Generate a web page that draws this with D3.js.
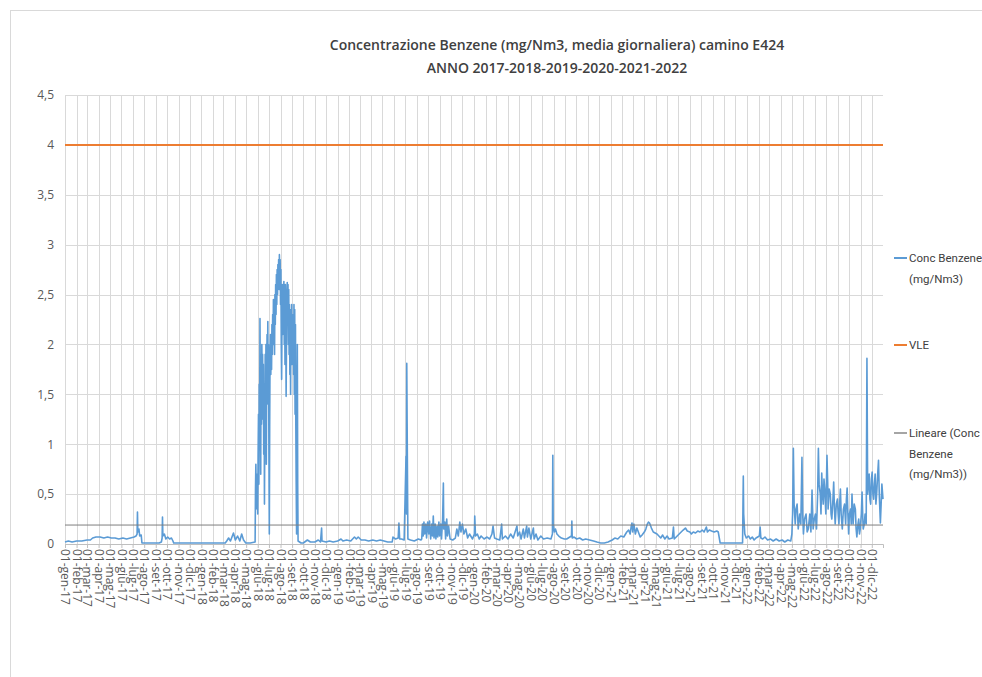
<!DOCTYPE html>
<html><head><meta charset="utf-8">
<script src="https://cdn.jsdelivr.net/npm/d3@7"></script>
<style>
html,body{margin:0;padding:0;background:#fff;}
svg{display:block;}
</style></head>
<body>
<svg id="chart" width="982" height="677"></svg>
<script>
// ---------- DATA ----------
const titleLines = ["Concentrazione Benzene (mg/Nm3, media giornaliera) camino E424", "ANNO 2017-2018-2019-2020-2021-2022"];
const monthAbbr = ["gen","feb","mar","apr","mag","giu","lug","ago","set","ott","nov","dic"];
const yTicks = [0,0.5,1,1.5,2,2.5,3,3.5,4,4.5];
const xStart = "2017-01-01", xEnd = "2022-12-31";
const vleValue = 4;
const trendValues = [0.19, 0.19]; // Lineare trend at start and end
const legendLabels = [["Conc Benzene","(mg/Nm3)"],["VLE"],["Lineare (Conc","Benzene","(mg/Nm3))"]];

const benzene2017 = [
["2017-01-01",0.02],["2017-01-10",0.03],["2017-01-20",0.02],["2017-02-01",0.03],["2017-02-15",0.03],["2017-03-01",0.04],["2017-03-10",0.04],["2017-03-16",0.06],["2017-03-25",0.07],["2017-04-05",0.07],["2017-04-15",0.06],["2017-04-25",0.07],["2017-05-05",0.06],["2017-05-15",0.06],["2017-05-25",0.05],["2017-06-05",0.06],["2017-06-15",0.05],["2017-06-25",0.06],["2017-07-05",0.07],["2017-07-10",0.08],["2017-07-13",0.1],["2017-07-14",0.32],["2017-07-15",0.12],["2017-07-18",0.15],["2017-07-20",0.08],["2017-07-24",0.09],["2017-07-26",0.01],["2017-08-10",0.01],["2017-08-25",0.01],["2017-09-10",0.01],["2017-09-16",0.02],["2017-09-18",0.06],["2017-09-19",0.27],["2017-09-20",0.08],["2017-09-24",0.1],["2017-09-28",0.05],["2017-10-03",0.07],["2017-10-08",0.05],["2017-10-13",0.06],["2017-10-17",0.03],["2017-10-19",0.01],["2017-11-15",0.01],["2017-12-15",0.01]
];
const benzene2018 = [
["2018-01-15",0.01],["2018-02-15",0.01],["2018-03-06",0.01],["2018-03-10",0.03],["2018-03-15",0.06],["2018-03-20",0.03],["2018-03-28",0.11],["2018-04-02",0.04],["2018-04-08",0.08],["2018-04-14",0.03],["2018-04-19",0.1],["2018-04-24",0.04],["2018-04-30",0.01],["2018-05-12",0.01],["2018-05-25",0.02],
["2018-05-26",0.55],["2018-05-27",0.8],["2018-05-28",0.45],["2018-05-29",0.7],["2018-05-30",0.35],["2018-05-31",0.6],["2018-06-01",0.3],["2018-06-02",0.9],["2018-06-03",1.3],["2018-06-04",0.6],["2018-06-05",1.6],["2018-06-06",1.0],["2018-06-07",2.26],["2018-06-08",1.4],["2018-06-09",0.7],["2018-06-10",1.9],["2018-06-11",1.2],["2018-06-12",2.0],["2018-06-13",1.5],["2018-06-14",1.9],["2018-06-15",1.25],["2018-06-16",1.8],["2018-06-17",0.9],["2018-06-18",1.6],["2018-06-19",0.4],["2018-06-20",1.2],["2018-06-21",1.9],["2018-06-22",1.5],["2018-06-23",2.0],["2018-06-24",0.8],["2018-06-25",1.7],["2018-06-26",2.1],["2018-06-27",1.6],["2018-06-28",2.23],["2018-06-29",1.4],["2018-06-30",2.0],["2018-07-01",0.9],["2018-07-02",0.1],["2018-07-03",1.2],["2018-07-04",1.9],["2018-07-05",2.1],["2018-07-06",1.7],["2018-07-07",2.05],["2018-07-08",1.75],["2018-07-09",2.2],["2018-07-10",1.9],["2018-07-11",2.3],["2018-07-12",2.0],["2018-07-13",2.45],["2018-07-14",2.1],["2018-07-15",2.3],["2018-07-16",1.9],["2018-07-17",2.5],["2018-07-18",2.2],["2018-07-19",2.6],["2018-07-20",2.3],["2018-07-21",2.7],["2018-07-22",2.4],["2018-07-23",2.75],["2018-07-24",2.5],["2018-07-25",2.8],["2018-07-26",2.6],["2018-07-27",2.85],["2018-07-28",2.55],["2018-07-29",2.9],["2018-07-30",2.7],["2018-07-31",2.85],["2018-08-01",2.4],["2018-08-02",2.75],["2018-08-03",2.0],["2018-08-04",1.65],["2018-08-05",2.3],["2018-08-06",2.6],["2018-08-07",2.1],["2018-08-08",2.55],["2018-08-09",2.3],["2018-08-10",2.63],["2018-08-11",2.0],["2018-08-12",2.5],["2018-08-13",1.8],["2018-08-14",2.6],["2018-08-15",2.2],["2018-08-16",1.48],["2018-08-17",2.0],["2018-08-18",2.5],["2018-08-19",2.62],["2018-08-20",2.3],["2018-08-21",2.6],["2018-08-22",2.0],["2018-08-23",2.55],["2018-08-24",1.9],["2018-08-25",2.4],["2018-08-26",1.7],["2018-08-27",2.2],["2018-08-28",1.5],["2018-08-29",2.35],["2018-08-30",2.0],["2018-08-31",2.4],["2018-09-01",1.8],["2018-09-02",2.3],["2018-09-03",1.9],["2018-09-04",2.2],["2018-09-05",1.7],["2018-09-06",2.4],["2018-09-07",1.5],["2018-09-08",2.35],["2018-09-09",1.3],["2018-09-10",2.2],["2018-09-11",1.18],["2018-09-12",0.6],["2018-09-13",0.1],["2018-09-14",1.2],["2018-09-15",2.0],["2018-09-16",0.6],["2018-09-17",0.03],
["2018-09-25",0.01],["2018-10-01",0.01],["2018-10-12",0.04],["2018-10-20",0.02],["2018-11-01",0.02],["2018-11-10",0.04],["2018-11-16",0.02],["2018-11-19",0.16],["2018-11-20",0.03],["2018-12-01",0.02],["2018-12-10",0.03],["2018-12-20",0.02]
];
const benzene2019 = [
["2019-01-01",0.03],["2019-01-10",0.05],["2019-01-15",0.03],["2019-01-25",0.04],["2019-02-05",0.03],["2019-02-15",0.07],["2019-02-20",0.05],["2019-02-25",0.07],["2019-03-05",0.04],["2019-03-15",0.04],["2019-03-25",0.03],["2019-04-05",0.04],["2019-04-15",0.03],["2019-04-25",0.04],["2019-05-05",0.03],["2019-05-15",0.02],["2019-05-27",0.02],["2019-05-29",0.07],["2019-06-05",0.05],["2019-06-12",0.06],["2019-06-14",0.21],["2019-06-16",0.05],["2019-06-21",0.05],["2019-06-28",0.04],["2019-07-03",0.88],["2019-07-04",0.3],["2019-07-05",1.81],["2019-07-06",1.2],["2019-07-08",0.05],["2019-07-15",0.04],["2019-07-25",0.03],["2019-08-05",0.05],["2019-08-12",0.04],
["2019-08-14",0.05],["2019-08-16",0.2],["2019-08-18",0.08],["2019-08-20",0.22],["2019-08-22",0.1],["2019-08-25",0.2],["2019-08-27",0.06],["2019-08-30",0.22],["2019-09-02",0.1],["2019-09-04",0.23],["2019-09-07",0.05],["2019-09-10",0.2],["2019-09-12",0.08],["2019-09-14",0.28],["2019-09-16",0.06],["2019-09-19",0.2],["2019-09-21",0.05],["2019-09-24",0.18],["2019-09-26",0.07],["2019-09-29",0.22],["2019-10-01",0.08],["2019-10-04",0.2],["2019-10-06",0.05],["2019-10-09",0.25],["2019-10-11",0.61],["2019-10-12",0.15],["2019-10-15",0.22],["2019-10-17",0.05],["2019-10-20",0.25],["2019-10-22",0.08],["2019-10-25",0.18],["2019-10-29",0.05],
["2019-11-05",0.04],["2019-11-12",0.06],["2019-11-16",0.15],["2019-11-20",0.08],["2019-11-24",0.22],["2019-11-27",0.12],["2019-12-01",0.2],["2019-12-05",0.1],["2019-12-10",0.15],["2019-12-15",0.06],["2019-12-20",0.1],["2019-12-28",0.05]
];
const benzene2020 = [
["2020-01-02",0.1],["2020-01-03",0.28],["2020-01-05",0.08],["2020-01-10",0.1],["2020-01-15",0.05],["2020-01-20",0.08],["2020-01-28",0.05],["2020-02-05",0.07],["2020-02-12",0.05],["2020-02-18",0.1],["2020-02-21",0.18],["2020-02-25",0.06],["2020-03-02",0.05],["2020-03-10",0.04],["2020-03-15",0.2],["2020-03-17",0.05],["2020-03-25",0.08],["2020-04-01",0.05],["2020-04-08",0.1],["2020-04-15",0.06],["2020-04-25",0.18],["2020-04-27",0.08],["2020-05-02",0.12],["2020-05-06",0.05],["2020-05-12",0.15],["2020-05-15",0.06],["2020-05-21",0.18],["2020-05-23",0.07],["2020-05-27",0.16],["2020-06-01",0.05],["2020-06-08",0.16],["2020-06-10",0.05],["2020-06-15",0.1],["2020-06-20",0.04],["2020-06-28",0.08],["2020-07-05",0.05],["2020-07-15",0.06],["2020-07-25",0.05],["2020-07-29",0.1],["2020-07-30",0.89],["2020-07-31",0.2],["2020-08-03",0.12],["2020-08-06",0.15],["2020-08-10",0.1],["2020-08-15",0.08],["2020-08-22",0.06],["2020-08-30",0.05],["2020-09-05",0.05],["2020-09-18",0.08],["2020-09-19",0.23],["2020-09-20",0.06],["2020-09-25",0.07],["2020-10-02",0.05],["2020-10-10",0.06],["2020-10-18",0.04],["2020-10-26",0.05],["2020-11-16",0.03],["2020-11-25",0.02],["2020-12-05",0.01],["2020-12-15",0.01],["2020-12-25",0.02]
];
const benzene2021 = [
["2021-01-05",0.04],["2021-01-12",0.06],["2021-01-20",0.05],["2021-01-28",0.08],["2021-02-05",0.07],["2021-02-13",0.12],["2021-02-18",0.14],["2021-02-22",0.1],["2021-02-25",0.18],["2021-02-27",0.21],["2021-03-01",0.12],["2021-03-04",0.2],["2021-03-08",0.1],["2021-03-12",0.16],["2021-03-18",0.1],["2021-03-21",0.07],["2021-03-26",0.09],["2021-04-01",0.12],["2021-04-05",0.15],["2021-04-09",0.2],["2021-04-12",0.22],["2021-04-15",0.21],["2021-04-20",0.16],["2021-04-25",0.12],["2021-05-05",0.1],["2021-05-10",0.08],["2021-05-15",0.06],["2021-05-20",0.09],["2021-05-26",0.05],["2021-06-01",0.08],["2021-06-06",0.05],["2021-06-15",0.06],["2021-06-18",0.17],["2021-06-20",0.05],["2021-06-28",0.08],["2021-07-06",0.11],["2021-07-14",0.14],["2021-07-20",0.16],["2021-07-25",0.13],["2021-08-01",0.12],["2021-08-05",0.1],["2021-08-10",0.12],["2021-08-16",0.11],["2021-08-22",0.13],["2021-08-28",0.12],["2021-09-03",0.14],["2021-09-08",0.12],["2021-09-14",0.17],["2021-09-17",0.12],["2021-09-22",0.14],["2021-09-28",0.13],["2021-10-05",0.12],["2021-10-12",0.13],["2021-10-16",0.12],["2021-10-21",0.01],["2021-11-15",0.01],["2021-12-10",0.01],["2021-12-20",0.01],["2021-12-22",0.68],["2021-12-23",0.3],["2021-12-26",0.1],["2021-12-30",0.06]
];
const benzene2022 = [
["2022-01-05",0.08],["2022-01-10",0.05],["2022-01-15",0.07],["2022-01-20",0.04],["2022-01-25",0.06],["2022-02-03",0.08],["2022-02-05",0.17],["2022-02-07",0.06],["2022-02-12",0.05],["2022-02-18",0.07],["2022-02-25",0.04],["2022-03-05",0.05],["2022-03-12",0.03],["2022-03-20",0.05],["2022-03-28",0.03],["2022-04-05",0.04],["2022-04-12",0.02],["2022-04-20",0.04],["2022-04-28",0.03],["2022-05-01",0.1],
["2022-05-03",0.3],["2022-05-05",0.96],["2022-05-07",0.4],["2022-05-10",0.2],["2022-05-12",0.35],["2022-05-15",0.4],["2022-05-18",0.15],["2022-05-22",0.3],["2022-05-25",0.2],["2022-05-28",0.87],["2022-05-30",0.3],["2022-06-01",0.1],["2022-06-04",0.25],["2022-06-08",0.3],["2022-06-11",0.12],["2022-06-14",0.15],["2022-06-18",0.3],["2022-06-21",0.12],["2022-06-24",0.54],["2022-06-27",0.15],["2022-06-30",0.25],["2022-07-03",0.3],["2022-07-06",0.15],["2022-07-09",0.5],["2022-07-11",0.96],["2022-07-13",0.6],["2022-07-16",0.5],["2022-07-18",0.3],["2022-07-20",0.71],["2022-07-22",0.5],["2022-07-24",0.4],["2022-07-26",0.65],["2022-07-28",0.55],["2022-07-31",0.3],["2022-08-03",0.89],["2022-08-05",0.6],["2022-08-06",0.35],["2022-08-09",0.55],["2022-08-12",0.5],["2022-08-14",0.3],["2022-08-16",0.25],["2022-08-19",0.45],["2022-08-21",0.62],["2022-08-23",0.35],["2022-08-25",0.2],["2022-08-28",0.4],["2022-08-31",0.45],["2022-09-02",0.3],["2022-09-04",0.2],["2022-09-06",0.4],["2022-09-08",0.55],["2022-09-10",0.3],["2022-09-13",0.15],["2022-09-16",0.35],["2022-09-19",0.4],["2022-09-22",0.2],["2022-09-24",0.45],["2022-09-26",0.56],["2022-09-28",0.3],["2022-09-30",0.1],["2022-10-02",0.3],["2022-10-05",0.35],["2022-10-07",0.2],["2022-10-09",0.5],["2022-10-12",0.2],["2022-10-15",0.4],["2022-10-18",0.35],["2022-10-20",0.15],["2022-10-22",0.07],["2022-10-25",0.2],["2022-10-27",0.25],["2022-10-29",0.1],["2022-10-31",0.15],["2022-11-03",0.3],["2022-11-05",0.52],["2022-11-07",0.25],["2022-11-08",0.15],["2022-11-11",0.2],["2022-11-13",0.3],["2022-11-16",0.2],["2022-11-18",1.86],["2022-11-20",0.5],["2022-11-22",0.6],["2022-11-24",0.7],["2022-11-26",0.45],["2022-11-28",0.4],["2022-11-30",0.65],["2022-12-02",0.72],["2022-12-04",0.5],["2022-12-06",0.45],["2022-12-08",0.6],["2022-12-10",0.7],["2022-12-12",0.4],["2022-12-14",0.5],["2022-12-16",0.65],["2022-12-19",0.84],["2022-12-21",0.5],["2022-12-24",0.21],["2022-12-26",0.4],["2022-12-28",0.6],["2022-12-31",0.45]
];

// ---------- CHART ----------
const parse = d3.timeParse("%Y-%m-%d");
const series = [].concat(benzene2017, benzene2018, benzene2019, benzene2020, benzene2021, benzene2022)
  .map(([d, v]) => ({date: parse(d), value: v}));

const svg = d3.select("#chart");
const W = 982, H = 677;
const M = {left: 65, right: 883, top: 95, bottom: 544};
const FONT = "'Open Sans', 'Liberation Sans', sans-serif";
const LEGFONT = "Roboto, 'Liberation Sans', sans-serif";

svg.append("rect").attr("width", W).attr("height", H).attr("fill", "#fff");
// outer chart frame
svg.append("rect").attr("x", 10.5).attr("y", 10.5).attr("width", 1000).attr("height", 700)
  .attr("fill", "none").attr("stroke", "#d9d9d9");

const x = d3.scaleTime().domain([parse(xStart), parse(xEnd)]).range([M.left, M.right]);
const y = d3.scaleLinear().domain([0, 4.5]).range([M.bottom, M.top]);

const months = d3.timeMonth.range(parse(xStart), d3.timeDay.offset(parse(xEnd), 1));
const fmtTick = d => "01-" + monthAbbr[d.getMonth()] + "-" + String(d.getFullYear()).slice(2);

// vertical gridlines
svg.append("g").attr("transform", `translate(0,${M.bottom})`)
  .call(d3.axisBottom(x).tickValues(months).tickSize(-(M.bottom - M.top)).tickFormat(""))
  .call(g => g.select(".domain").remove())
  .call(g => g.selectAll("line").attr("stroke", "#d9d9d9").attr("shape-rendering", "crispEdges"));

// horizontal gridlines + y labels
svg.append("g").attr("transform", `translate(${M.left},0)`)
  .call(d3.axisLeft(y).tickValues(yTicks).tickSize(-(M.right - M.left)).tickPadding(11)
    .tickFormat(d => String(d).replace(".", ",")))
  .call(g => g.select(".domain").remove())
  .call(g => g.selectAll("line").attr("stroke", "#d9d9d9").attr("shape-rendering", "crispEdges"))
  .call(g => g.selectAll("text").attr("fill", "#595959").style("font-family", FONT).style("font-size", "12px"));

// x axis labels
const xa = svg.append("g").attr("transform", `translate(0,${M.bottom})`)
  .call(d3.axisBottom(x).tickValues(months).tickSize(4).tickFormat(fmtTick));
xa.select(".domain").attr("stroke", "#bfbfbf");
xa.selectAll("line").attr("stroke", "#bfbfbf");
xa.selectAll("text")
  .attr("fill", "#595959").style("font-family", FONT).style("font-size", "12px")
  .attr("text-anchor", "start")
  .attr("transform", "rotate(90)")
  .attr("x", 5).attr("y", 0).attr("dy", "0.35em");

// VLE line
svg.append("path").datum(x.domain())
  .attr("d", d3.line().x(d => x(d)).y(() => y(vleValue)))
  .attr("stroke", "#ED7D31").attr("stroke-width", 2).attr("fill", "none");

// benzene line
svg.append("path").datum(series)
  .attr("d", d3.line().x(d => x(d.date)).y(d => y(d.value)))
  .attr("stroke", "#5B9BD5").attr("stroke-width", 1.6).attr("fill", "none")
  .attr("stroke-linejoin", "round");

// linear trend
svg.append("path").datum(x.domain().map((d, i) => ({date: d, value: trendValues[i]})))
  .attr("d", d3.line().x(d => x(d.date)).y(d => y(d.value)))
  .attr("stroke", "#7f7f7f").attr("stroke-width", 1).attr("fill", "none");

// title
svg.append("g").selectAll("text").data(titleLines).join("text")
  .attr("x", 557).attr("y", (d, i) => 50 + i * 23)
  .attr("text-anchor", "middle").attr("fill", "#404040")
  .style("font-family", FONT).style("font-size", "14px").style("font-weight", 600)
  .text(d => d);

// legend
const legColors = ["#5B9BD5", "#ED7D31", "#A5A5A5"];
const legY = [258, 345, 433];
const leg = svg.append("g");
legendLabels.forEach((lines, i) => {
  leg.append("line").attr("x1", 894).attr("x2", 907).attr("y1", legY[i]).attr("y2", legY[i])
    .attr("stroke", legColors[i]).attr("stroke-width", 2);
  leg.append("text").attr("x", 909).attr("y", legY[i])
    .attr("fill", "#404040").style("font-family", LEGFONT).style("font-size", "11.5px")
    .selectAll("tspan").data(lines).join("tspan")
    .attr("x", 909).attr("dy", (d, j) => j === 0 ? "0.35em" : "1.8em").text(d => d);
});
</script>
</body></html>
